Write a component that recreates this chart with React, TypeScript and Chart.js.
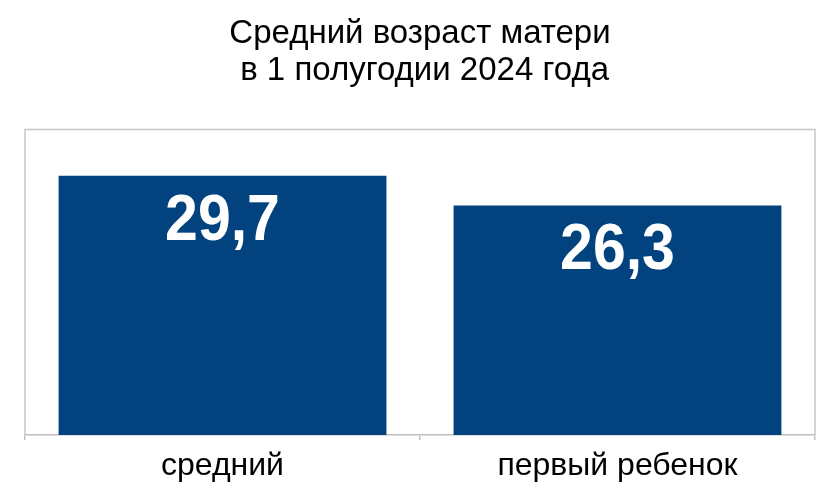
import React, { useEffect, useRef } from "react";
import { Chart, registerables } from "chart.js";

Chart.register(...registerables);

const categories: string[] = ["средний", "первый ребенок"];
const values: number[] = [29.7, 26.3];
const valueLabels: string[] = ["29,7", "26,3"];
const titleLines: string[] = ["Средний возраст матери", " в 1 полугодии 2024 года"];

const FONT = '"Liberation Sans", Arial, sans-serif';

const framePlugin = {
  id: "frame",
  beforeDatasetsDraw(chart: any) {
    const { ctx, chartArea } = chart;
    ctx.save();
    ctx.strokeStyle = "#c8c8c8";
    ctx.lineWidth = 1.5;
    ctx.beginPath();
    ctx.moveTo(chartArea.left, chartArea.bottom);
    ctx.lineTo(chartArea.left, chartArea.top);
    ctx.lineTo(chartArea.right, chartArea.top);
    ctx.lineTo(chartArea.right, chartArea.bottom);
    ctx.stroke();
    ctx.restore();
  },
};

const valueLabelPlugin = {
  id: "valueLabels",
  afterDatasetsDraw(chart: any) {
    const { ctx } = chart;
    const meta = chart.getDatasetMeta(0);
    ctx.save();
    ctx.fillStyle = "#ffffff";
    ctx.font = `bold 59px ${FONT}`;
    ctx.textAlign = "center";
    ctx.textBaseline = "alphabetic";
    meta.data.forEach((bar: any, i: number) => {
      const x = bar.x;
      const y = bar.y + 64;
      ctx.save();
      ctx.translate(x, y);
      ctx.scale(1, 1.11);
      ctx.fillText(valueLabels[i], 0, 0);
      ctx.restore();
    });
    ctx.restore();
  },
};

export default function App() {
  const ref = useRef<HTMLCanvasElement | null>(null);

  useEffect(() => {
    if (!ref.current) return;
    const chart = new Chart(ref.current, {
      type: "bar",
      data: {
        labels: categories,
        datasets: [
          {
            data: values,
            backgroundColor: "#02427f",
            borderWidth: 0,
            barPercentage: 0.83,
            categoryPercentage: 1,
          },
        ],
      },
      options: {
        animation: false,
        responsive: true,
        maintainAspectRatio: false,
        layout: { padding: { left: 17, right: 15, top: 0, bottom: -8 } },
        plugins: {
          legend: { display: false },
          tooltip: { enabled: false },
          title: {
            display: true,
            text: titleLines,
            color: "#000000",
            font: { family: FONT, size: 33, weight: "normal", lineHeight: 1.13 },
            padding: { top: 7, bottom: 40 },
          },
        },
        scales: {
          x: {
            offset: true,
            grid: {
              offset: true,
              drawOnChartArea: false,
              drawTicks: true,
              tickLength: 5,
              color: "#c0c0c0",
              lineWidth: 1.5,
            },
            border: { display: true, color: "#c0c0c0", width: 1.5 },
            ticks: {
              color: "#000000",
              padding: 10,
              font: { family: FONT, size: 32, lineHeight: 1.0 },
            },
          },
          y: {
            display: false,
            min: 0,
            max: 35,
          },
        },
      },
      plugins: [framePlugin, valueLabelPlugin],
    });
    return () => chart.destroy();
  }, []);

  return (
    <div style={{ width: 822, height: 476, position: "relative" }}>
      <canvas ref={ref} />
    </div>
  );
}
